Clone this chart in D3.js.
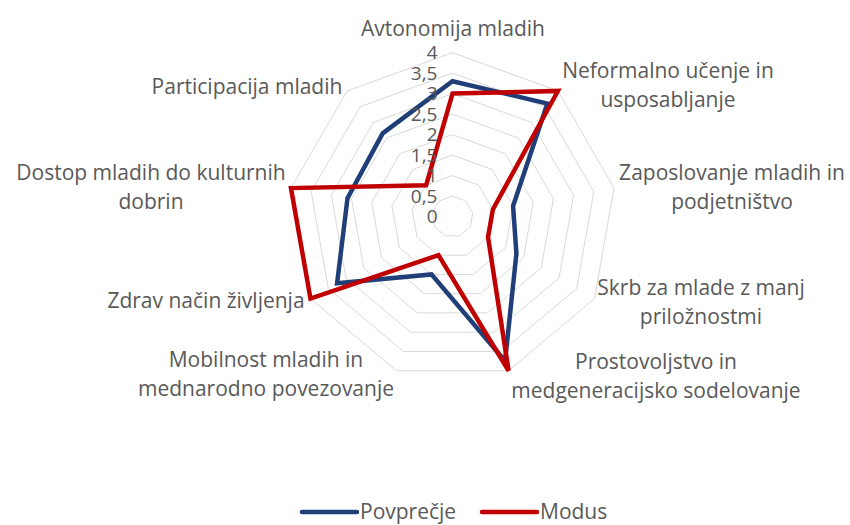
<!DOCTYPE html>
<html>
<head>
<meta charset="utf-8">
<script src="https://cdn.jsdelivr.net/npm/d3@7"></script>
<style>
  body { margin: 0; background: #fff; }
  #chart text { font-family: "Open Sans", sans-serif; fill: #595959; }
</style>
</head>
<body>
<div id="chart"></div>
<script>
"use strict";

// axis categories (each entry split into display lines)
const categories = [
  ["Avtonomija mladih"],
  ["Neformalno učenje in", "usposabljanje"],
  ["Zaposlovanje mladih in", "podjetništvo"],
  ["Skrb za mlade z manj", "priložnostmi"],
  ["Prostovoljstvo in", "medgeneracijsko sodelovanje"],
  ["Mobilnost mladih in", "mednarodno povezovanje"],
  ["Zdrav način življenja"],
  ["Dostop mladih do kulturnih", "dobrin"],
  ["Participacija mladih"],
];

const povprecje = [3.3, 3.6, 1.5, 1.8, 3.75, 1.5, 3.25, 2.6, 2.65];
const modus = [3, 4, 1, 1, 4, 1, 4, 4, 1];

const tickValues = [0, 0.5, 1, 1.5, 2, 2.5, 3, 3.5, 4];
const tickLabels = ["0", "0,5", "1", "1,5", "2", "2,5", "3", "3,5", "4"];

const seriesNames = ["Povprečje", "Modus"];
const seriesColors = ["#203f78", "#c00000"];

// label anchor positions (centre of the text block)
const labelPos = [
  [453, 29], [668, 85], [732, 187], [701, 302], [656, 376],
  [266, 374], [206, 301], [151, 187], [247, 87],
];

const W = 850, H = 525;
const cx = 452.5, cy = 216.6, R = 164;

const svg = d3.select("#chart").append("svg")
  .attr("width", W).attr("height", H);

const r = d3.scaleLinear().domain([0, 4]).range([0, R]);
const angle = d3.scaleLinear().domain([0, categories.length]).range([0, 2 * Math.PI]);

const g = svg.append("g").attr("transform", `translate(${cx},${cy})`);

// grid rings
const ring = d3.lineRadial()
  .angle((d, i) => angle(i))
  .radius((d) => r(d))
  .curve(d3.curveLinearClosed);

g.selectAll(".ring")
  .data(tickValues.filter((v) => v > 0))
  .enter()
  .append("path")
  .attr("class", "ring")
  .attr("d", (v) => ring(categories.map(() => v)))
  .attr("fill", "none")
  .attr("stroke", "#d9d9d9")
  .attr("stroke-width", 1);

// series
const series = [povprecje, modus];
g.selectAll(".series")
  .data(series)
  .enter()
  .append("path")
  .attr("class", "series")
  .attr("d", (s) => ring(s))
  .attr("fill", "none")
  .attr("stroke", (s, i) => seriesColors[i])
  .attr("stroke-width", 4.5)
  .attr("stroke-linejoin", "miter");

// tick labels along the top axis
g.selectAll(".tick")
  .data(tickValues)
  .enter()
  .append("text")
  .attr("class", "tick")
  .attr("x", -15)
  .attr("y", (v) => -r(v))
  .attr("dy", "0.35em")
  .attr("text-anchor", "end")
  .style("font-size", "19px")
  .text((v, i) => tickLabels[i]);

// category labels
const lineH = 29;
const labels = svg.selectAll(".cat")
  .data(categories)
  .enter()
  .append("text")
  .attr("class", "cat")
  .attr("text-anchor", "middle")
  .style("font-size", "21px");

labels.each(function (lines, i) {
  const [lx, ly] = labelPos[i];
  const top = ly - ((lines.length - 1) * lineH) / 2;
  d3.select(this)
    .selectAll("tspan")
    .data(lines)
    .enter()
    .append("tspan")
    .attr("x", lx)
    .attr("y", (d, j) => top + j * lineH)
    .attr("dy", "0.35em")
    .text((d) => d);
});

// legend
const legend = svg.append("g").attr("class", "legend");
const legendX = [302, 482];
seriesNames.forEach((name, i) => {
  const lg = legend.append("g").attr("transform", `translate(${legendX[i]},512)`);
  lg.append("line")
    .attr("x1", 0).attr("x2", 55)
    .attr("stroke", seriesColors[i])
    .attr("stroke-width", 4.5)
    .attr("stroke-linecap", "round");
  lg.append("text")
    .attr("x", 58)
    .attr("dy", "0.35em")
    .style("font-size", "21px")
    .text(name);
});
</script>
</body>
</html>
